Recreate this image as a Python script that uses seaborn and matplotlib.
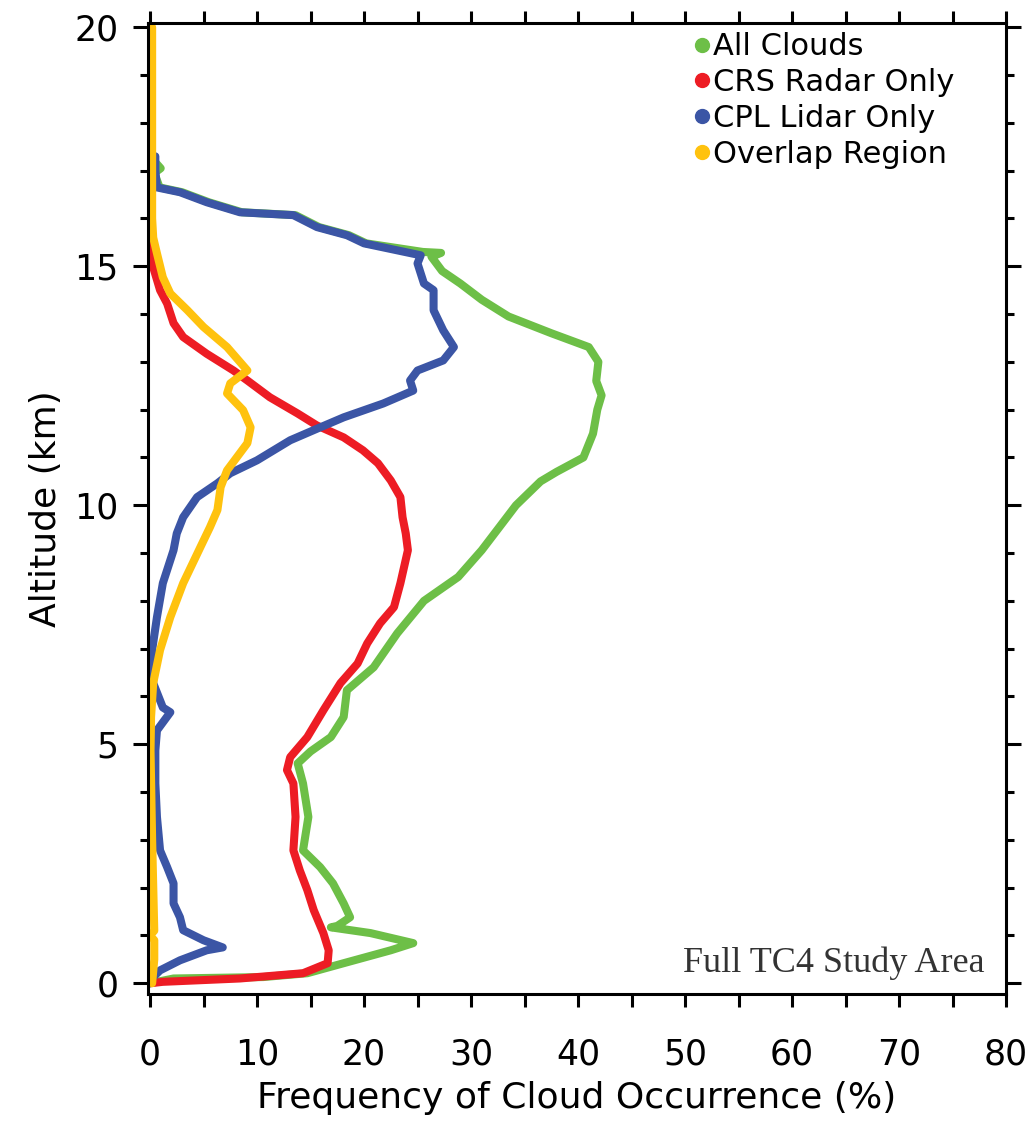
import matplotlib
matplotlib.use("Agg")
import matplotlib.pyplot as plt
from matplotlib.lines import Line2D
from matplotlib.ticker import MultipleLocator
import pandas as pd
import seaborn as sns

# altitude (km) / frequency (%) profiles, top to bottom
alt_all = [20.0, 17.3, 17.05, 16.95, 16.65, 16.55, 16.34, 16.13, 16.07, 15.82, 15.65,
           15.48, 15.3, 15.28, 15.2, 14.9, 14.64, 14.3, 13.95, 13.6, 13.31, 13.0, 12.6,
           12.3, 12.0, 11.5, 11.0, 10.7, 10.5, 10.0, 9.5, 9.06, 8.5, 8.0, 7.32, 6.61,
           6.13, 5.57, 5.15, 4.85, 4.6, 4.18, 3.48, 2.78, 2.43, 2.09, 1.67, 1.38, 1.2,
           1.17, 1.05, 0.84, 0.69, 0.42, 0.21, 0.13, 0.1, 0.0]
val_all = [0.0, 0.0, 1.0, 0.4, 0.9, 3.0, 5.5, 8.6, 13.6, 15.8, 18.6,
           20.2, 25.5, 27.2, 26.3, 27.3, 29.0, 31.0, 33.5, 37.5, 41.0, 41.9, 41.7,
           42.2, 41.8, 41.4, 40.5, 38.0, 36.5, 34.2, 32.5, 31.0, 28.8, 25.6, 23.1, 20.9,
           18.4, 18.1, 16.9, 15.0, 13.8, 14.3, 14.8, 14.3, 15.9, 17.1, 18.1, 18.7, 17.5,
           16.9, 20.6, 24.6, 22.5, 18.1, 14.7, 10.6, 2.2, 0.0]

alt_crs = [16.03, 15.33, 14.98, 14.5, 14.22, 13.81, 13.52, 13.17, 12.82, 12.61, 12.26,
           11.92, 11.67, 11.42, 11.15, 10.88, 10.52, 10.17, 9.75, 9.41, 9.06, 8.37, 7.87,
           7.53, 7.11, 6.69, 6.28, 5.71, 5.15, 4.73, 4.46, 4.18, 3.48, 2.78, 2.36, 1.95,
           1.53, 1.05, 0.69, 0.42, 0.21, 0.1, 0.03, 0.0]
val_crs = [0.0, 0.0, 0.3, 0.94, 1.6, 2.2, 3.1, 5.3, 7.8, 9.1, 11.2,
           13.8, 15.6, 18.1, 19.9, 21.3, 22.5, 23.4, 23.6, 23.9, 24.1, 23.4, 22.8,
           21.5, 20.3, 19.4, 17.8, 16.2, 14.7, 13.1, 12.8, 13.4, 13.6, 13.4, 14.0, 14.7,
           15.3, 16.2, 16.7, 16.6, 14.3, 8.4, 1.2, 0.0]

alt_cpl = [17.3, 17.0, 16.65, 16.55, 16.34, 16.13, 16.07, 15.82, 15.65, 15.48, 15.23,
           15.06, 14.64, 14.5, 14.08, 13.66, 13.31, 13.03, 12.82, 12.61, 12.4, 12.13,
           11.84, 11.63, 11.36, 10.94, 10.67, 10.46, 10.17, 9.75, 9.41, 9.06, 8.37, 7.66,
           6.97, 6.28, 5.77, 5.67, 5.29, 4.87, 4.18, 3.48, 2.78, 2.43, 2.09, 1.67, 1.38,
           1.11, 0.9, 0.75, 0.69, 0.48, 0.27, 0.13, 0.0]
val_cpl = [0.5, 0.5, 0.65, 2.8, 5.3, 8.4, 13.4, 15.6, 18.4, 20.0, 25.3,
           25.0, 25.6, 26.5, 26.5, 27.4, 28.4, 27.4, 25.0, 24.3, 24.6, 21.8,
           18.1, 15.9, 13.1, 10.0, 7.5, 6.3, 4.4, 3.1, 2.5, 2.2, 1.2, 0.65,
           0.2, 0.3, 1.2, 1.9, 0.65, 0.5, 0.5, 0.65, 0.94, 1.6, 2.2, 2.2, 2.8,
           3.1, 5.0, 6.8, 5.3, 2.8, 0.94, 0.3, 0.0]

alt_ovl = [20.0, 16.0, 15.6, 15.27, 14.77, 14.43, 14.08, 13.73, 13.31, 12.82, 12.55,
           12.34, 11.99, 11.63, 11.3, 11.0, 10.73, 10.38, 9.9, 9.54, 9.12, 8.37, 7.66,
           6.97, 6.28, 5.57, 4.87, 3.0, 1.1, 1.0, 0.9, 0.5, 0.0]
val_ovl = [0.2, 0.2, 0.3, 0.65, 1.2, 1.9, 3.5, 5.0, 7.2, 9.1, 7.5,
           7.2, 8.7, 9.4, 9.1, 8.1, 7.2, 6.6, 6.3, 5.6, 4.7, 3.1, 1.9,
           0.94, 0.3, 0.1, 0.05, 0.2, 0.4, 0.0, 0.4, 0.4, 0.2]

series = ["All Clouds", "CRS Radar Only", "CPL Lidar Only", "Overlap Region"]
colors = ["#6dbf47", "#ed1c24", "#3b55a5", "#ffc20e"]

frames = []
for name, alt, val in zip(series,
                          [alt_all, alt_crs, alt_cpl, alt_ovl],
                          [val_all, val_crs, val_cpl, val_ovl]):
    frames.append(pd.DataFrame({"alt": alt, "freq": val, "series": name}))
df = pd.concat(frames, ignore_index=True)

sns.set_style("ticks")
plt.rcParams["font.family"] = ["DejaVu Sans"]
plt.rcParams["text.color"] = "black"
plt.rcParams["axes.labelcolor"] = "black"
plt.rcParams["xtick.color"] = "black"
plt.rcParams["ytick.color"] = "black"
plt.rcParams["axes.edgecolor"] = "black"

fig = plt.figure(figsize=(10.34, 11.26), dpi=100)
ax = fig.add_axes([0.143, 0.117, 0.830, 0.863])

sns.lineplot(data=df, x="freq", y="alt", hue="series", hue_order=series,
             palette=colors, sort=False, orient="y", estimator=None,
             linewidth=5.8, legend=False, ax=ax)

ax.set_xlim(-0.2, 80)
ax.set_ylim(-0.23, 20.1)
ax.xaxis.set_major_locator(MultipleLocator(10))
ax.xaxis.set_minor_locator(MultipleLocator(5))
ax.yaxis.set_major_locator(MultipleLocator(5))
ax.yaxis.set_minor_locator(MultipleLocator(1))
ax.tick_params(axis="both", which="both", direction="out", width=2.2,
               top=True, right=True, labeltop=False, labelright=False)
ax.tick_params(axis="x", which="both", length=9, pad=22, labelsize=25)
ax.tick_params(axis="y", which="major", length=11, pad=10, labelsize=25)
ax.tick_params(axis="y", which="minor", length=6)
for s in ax.spines.values():
    s.set_linewidth(2.2)
    s.set_visible(True)

ax.set_xlabel("Frequency of Cloud Occurrence (%)", fontsize=26, labelpad=7)
ax.set_ylabel("Altitude (km)", fontsize=26, labelpad=8)

handles = [Line2D([], [], marker="o", linestyle="none", color=c, markersize=10)
           for c in colors]
ax.legend(handles, series, loc="upper left", bbox_to_anchor=(0.633, 0.993),
          frameon=False, fontsize=22, handlelength=0.5, handletextpad=0.12,
          labelspacing=0.22, borderaxespad=0.1, borderpad=0)

ax.text(0.975, 0.023, "Full TC4 Study Area", transform=ax.transAxes,
        ha="right", va="baseline", fontsize=26, family="Liberation Serif",
        color="#333333")

fig.savefig("out.png", dpi=100)
